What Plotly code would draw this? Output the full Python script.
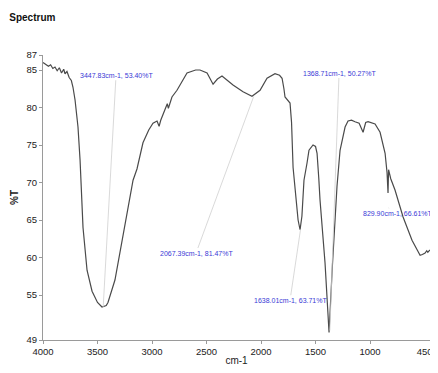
import plotly.graph_objects as go

wavenumber = [4000, 3975, 3950, 3930, 3910, 3890, 3870, 3850, 3830, 3810, 3798, 3780, 3760, 3740,
              3725, 3706, 3679, 3660, 3642, 3633, 3596, 3550, 3500, 3459, 3420, 3404, 3340, 3275,
              3220, 3174, 3138, 3083, 3030, 2991, 2954, 2935, 2920, 2881, 2860, 2850, 2817, 2771,
              2679, 2600, 2560, 2495, 2440, 2400, 2358, 2257, 2165, 2083, 2009, 1945, 1872, 1830,
              1807, 1790, 1780, 1734, 1720, 1706, 1679, 1660, 1642, 1625, 1606, 1590, 1578, 1560,
              1523, 1500, 1486, 1470, 1459, 1413, 1376, 1345, 1312, 1303, 1275, 1229, 1202, 1170,
              1138, 1100, 1064, 1040, 1018, 954, 908, 862, 844, 835, 830, 826, 810, 771, 697, 615,
              541, 520, 495, 480, 470, 450]
transmittance = [86.0, 85.8, 85.5, 85.7, 85.2, 85.4, 84.9, 85.3, 84.6, 85.1, 84.5, 84.8, 84.0, 83.6,
                 82.7, 81.0, 77.4, 73.0, 68.0, 64.0, 58.3, 55.5, 54.0, 53.4, 53.6, 54.0, 57.0, 62.3,
                 66.7, 70.3, 71.8, 75.3, 77.0, 77.9, 78.2, 77.5, 78.3, 79.7, 80.5, 79.9, 81.4, 82.3,
                 84.6, 85.0, 85.0, 84.6, 83.1, 83.8, 84.2, 83.0, 82.1, 81.5, 82.3, 83.9, 84.5, 84.3,
                 83.9, 82.5, 81.4, 80.6, 78.0, 72.0, 67.5, 65.0, 63.7, 65.5, 70.3, 72.0, 72.6, 74.3,
                 75.0, 74.8, 73.9, 70.5, 67.7, 59.3, 50.0, 59.0, 68.0, 69.5, 74.3, 77.4, 78.2, 78.3,
                 78.1, 77.9, 76.7, 78.0, 78.1, 77.8, 76.7, 73.9, 71.3, 68.6, 71.7, 71.5, 70.5, 69.0,
                 65.4, 62.3, 60.3, 60.4, 60.6, 60.9, 60.7, 61.0]

peak_wn = [3447.83, 2067.39, 1368.71, 1638.01, 829.90]
peak_t = [53.40, 81.47, 50.27, 63.71, 66.61]
peak_labels = ["3447.83cm-1, 53.40%T", "2067.39cm-1, 81.47%T", "1368.71cm-1, 50.27%T",
               "1638.01cm-1, 63.71%T", "829.90cm-1, 66.61%T"]
label_wn = [3330, 2596, 1284, 1734, 748]
label_t = [84.3, 60.6, 84.6, 54.3, 65.9]

x_ticks = [4000, 3500, 3000, 2500, 2000, 1500, 1000, 450]
x_tick_labels = ["4000", "3500", "3000", "2500", "2000", "1500", "1000",
                 "450\u00a0\u00a0\u00a0\u00a0"]
y_ticks = [49, 55, 60, 65, 70, 75, 80, 85, 87]

FONT = "Liberation Sans Narrow, Arial Narrow, Liberation Sans, Arial, sans-serif"

fig = go.Figure()
fig.add_trace(go.Scatter(x=wavenumber, y=transmittance, mode="lines",
                         line=dict(color="#4a4a4a", width=1.2), hoverinfo="skip"))

for px, py, lab, lx, ly in zip(peak_wn, peak_t, peak_labels, label_wn, label_t):
    fig.add_annotation(x=px, y=py, xref="x", yref="y", ax=lx, ay=ly, axref="x", ayref="y",
                       text=lab, showarrow=True, arrowhead=0, arrowwidth=0.8,
                       arrowcolor="#cfcfcf", standoff=0,
                       font=dict(family=FONT, size=7, color="#3a3ad6"))

# page body has an 8px margin, so the figure is sized/positioned to compensate
fig.update_layout(
    width=430, height=365,
    margin=dict(l=35, r=8, t=47, b=33),
    paper_bgcolor="white", plot_bgcolor="white",
    showlegend=False,
    title=dict(text="<b>Spectrum</b>", x=0.003, xanchor="left", y=0.975, yanchor="middle",
               font=dict(family=FONT, size=10, color="#111")),
    font=dict(family=FONT, size=10, color="#222"),
)
fig.update_xaxes(range=[4000, 450], tickvals=x_ticks, ticktext=x_tick_labels,
                 showgrid=False, zeroline=False, showline=True, linecolor="#9a9a9a", linewidth=1,
                 ticks="outside", ticklen=3, tickcolor="#9a9a9a", automargin=False,
                 ticklabeloverflow="allow",
                 tickfont=dict(family=FONT, size=9.5, color="#222"),
                 title=dict(text="cm-1", font=dict(family=FONT, size=10, color="#222"), standoff=0))
fig.update_yaxes(range=[49, 87], tickvals=y_ticks, ticktext=[str(v) for v in y_ticks],
                 showgrid=False, zeroline=False, showline=True, linecolor="#9a9a9a", linewidth=1,
                 ticks="outside", ticklen=3, tickcolor="#9a9a9a", automargin=False,
                 tickfont=dict(family=FONT, size=9.5, color="#222"),
                 title=dict(text="<b>%T</b>", font=dict(family=FONT, size=10, color="#222"), standoff=6))

fig.write_html("out.html")
